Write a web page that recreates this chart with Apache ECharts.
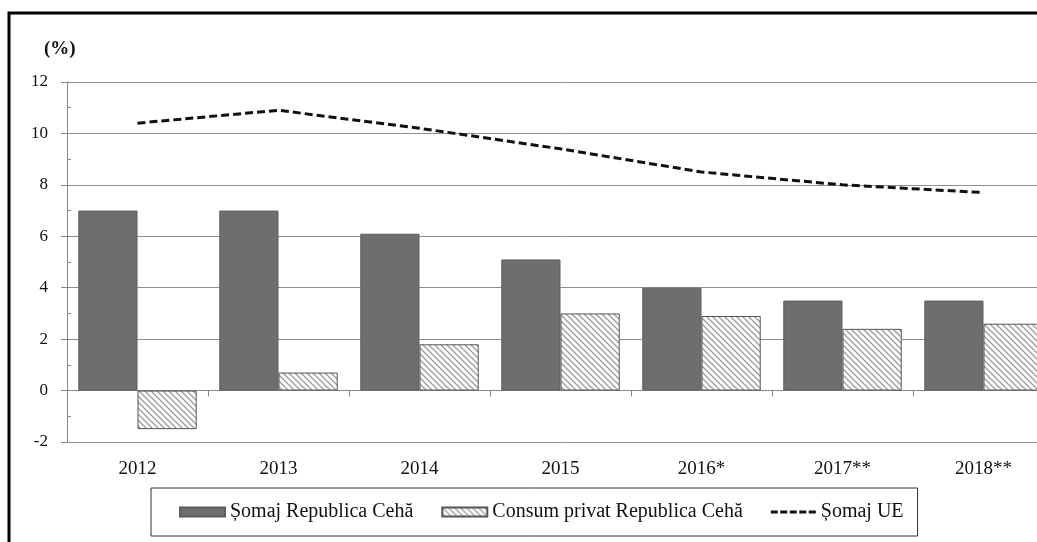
<!DOCTYPE html>
<html>
<head>
<meta charset="utf-8">
<script src="https://cdn.jsdelivr.net/npm/echarts@6/dist/echarts.min.js"></script>
<style>
html,body{margin:0;padding:0;background:#fff;overflow:hidden;}
#chart{width:1070px;height:542px;}
</style>
</head>
<body>
<div id="chart"></div>
<script>
// ---- data ----
const categories = ['2012', '2013', '2014', '2015', '2016*', '2017**', '2018**'];
const somajCZ = [7.0, 7.0, 6.1, 5.1, 4.0, 3.5, 3.5];
const consumCZ = [-1.5, 0.7, 1.8, 3.0, 2.9, 2.4, 2.6];
const somajUE = [10.4, 10.9, 10.2, 9.4, 8.5, 8.0, 7.7];
const seriesNames = ['Șomaj Republica Cehă', 'Consum privat Republica Cehă', 'Șomaj UE'];
const yUnit = '(%)';

// hatch pattern
const pc = document.createElement('canvas');
pc.width = 6; pc.height = 6;
const ctx = pc.getContext('2d');
ctx.fillStyle = '#ffffff';
ctx.fillRect(0, 0, 6, 6);
ctx.strokeStyle = '#9a9a9a';
ctx.lineWidth = 1.3;
ctx.beginPath();
ctx.moveTo(-1, -1); ctx.lineTo(7, 7);
ctx.moveTo(-1, 5); ctx.lineTo(1, 7);
ctx.moveTo(5, -1); ctx.lineTo(7, 1);
ctx.stroke();

const dashIcon = 'path://M0,0h7v3h-7z M9.5,0h7v3h-7z M19,0h7v3h-7z M28.5,0h7v3h-7z M38,0h7v3h-7z';

const FONT = 'Liberation Serif';
const chart = echarts.init(document.getElementById('chart'), null, {renderer: 'canvas'});
const option = {
  backgroundColor: '#ffffff',
  animation: false,
  grid: {left: 67, top: 82, width: 987, height: 360, containLabel: false},
  graphic: [
    {type: 'rect', shape: {x: 9, y: 13, width: 1100, height: 600},
     style: {fill: 'none', stroke: '#000', lineWidth: 3}, z: 100},
    {type: 'text', x: 44, y: 49,
     style: {text: yUnit, font: 'bold 19px "Liberation Serif"', fill: '#111', verticalAlign: 'middle'}}
  ],
  legend: {
    left: 151, top: 488,
    padding: [14, 14, 14, 28],
    borderColor: '#333', borderWidth: 1,
    itemWidth: 45, itemHeight: 9, itemGap: 28,
    textStyle: {fontFamily: FONT, fontSize: 20, color: '#111'},
    data: [
      {name: seriesNames[0], icon: 'rect'},
      {name: seriesNames[1], icon: 'rect'},
      {name: seriesNames[2], icon: dashIcon}
    ]
  },
  xAxis: [
    {type: 'category', data: categories,
     axisLine: {onZero: true, lineStyle: {color: '#8a8a8a', width: 1}},
     axisTick: {show: true, length: 6, lineStyle: {color: '#8a8a8a'}},
     axisLabel: {show: false}},
    {type: 'category', data: categories, position: 'bottom',
     axisLine: {show: false, onZero: false}, axisTick: {show: false},
     axisLabel: {show: true, margin: 18, fontFamily: FONT, fontSize: 19, color: '#111'}}
  ],
  yAxis: [
    {type: 'value', min: -2, max: 12, interval: 2,
     axisLine: {show: true, lineStyle: {color: '#8a8a8a'}},
     axisTick: {show: true, length: 6, lineStyle: {color: '#8a8a8a'}},
     axisLabel: {margin: 19, fontFamily: FONT, fontSize: 17, color: '#111'},
     splitLine: {show: true, lineStyle: {color: '#8f8f8f', width: 1}}},
    {type: 'value', min: -2, max: 12, interval: 1, position: 'left',
     axisLine: {show: false},
     axisTick: {show: true, inside: true, length: 4, lineStyle: {color: '#8a8a8a'}},
     axisLabel: {show: false}, splitLine: {show: false}}
  ],
  series: [
    {name: seriesNames[0], type: 'bar', data: somajCZ, barGap: '0%', barCategoryGap: '16%',
     itemStyle: {color: '#6e6e6e', borderColor: '#5e5e5e', borderWidth: 1}},
    {name: seriesNames[1], type: 'bar', data: consumCZ, barGap: '0%', barCategoryGap: '16%',
     itemStyle: {color: {image: pc, repeat: 'repeat'}, borderColor: '#555', borderWidth: 1}},
    {name: seriesNames[2], type: 'line', data: somajUE, symbol: 'none', showSymbol: false,
     lineStyle: {color: '#111', width: 3, type: [8, 4]}, itemStyle: {color: '#111'}, z: 5}
  ]
};
chart.setOption(option);
</script>
</body>
</html>
